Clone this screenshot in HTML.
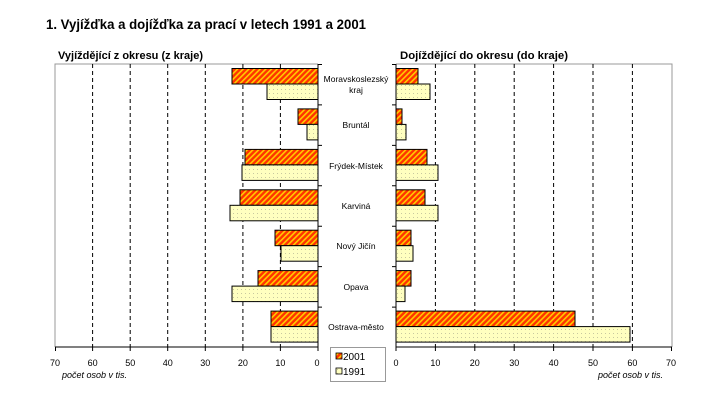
<!DOCTYPE html>
<html><head><meta charset="utf-8"><style>
html,body{margin:0;padding:0;background:#fff;}
svg{display:block;font-family:"Liberation Sans",sans-serif;}
</style></head><body>
<svg width="726" height="405" viewBox="0 0 726 405" xmlns="http://www.w3.org/2000/svg">
<defs>
<pattern id="h" width="4" height="4" patternUnits="userSpaceOnUse" patternTransform="rotate(45)">
<rect width="4" height="4" fill="#ff3300"/><rect width="1.6" height="4" fill="#ffcc00"/>
</pattern>
<pattern id="d" width="4" height="4" patternUnits="userSpaceOnUse">
<rect width="4" height="4" fill="#ffffc0"/><rect x="1" y="1" width="1" height="1" fill="#c8c8a0"/>
</pattern>
</defs>
<text x="46" y="29" font-size="14" font-weight="bold" textLength="320" lengthAdjust="spacingAndGlyphs">1. Vyjížďka a dojížďka za prací v letech 1991  a 2001</text>
<text x="58" y="59" font-size="11" font-weight="bold" textLength="145" lengthAdjust="spacingAndGlyphs">Vyjíždějící z okresu (z kraje)</text>
<text x="400" y="59" font-size="11" font-weight="bold" textLength="168" lengthAdjust="spacingAndGlyphs">Dojíždějící do okresu (do kraje)</text>
<path d="M55 347 V64 H318" fill="none" stroke="#999" stroke-width="1"/>
<path d="M396 64 H672 V347" fill="none" stroke="#999" stroke-width="1"/>
<g stroke="#000" stroke-dasharray="4,3" stroke-width="1">
<line x1="92.6" y1="64" x2="92.6" y2="347"/><line x1="130.2" y1="64" x2="130.2" y2="347"/>
<line x1="167.7" y1="64" x2="167.7" y2="347"/><line x1="205.3" y1="64" x2="205.3" y2="347"/>
<line x1="242.9" y1="64" x2="242.9" y2="347"/><line x1="280.4" y1="64" x2="280.4" y2="347"/>
<line x1="435.4" y1="64" x2="435.4" y2="347"/><line x1="474.8" y1="64" x2="474.8" y2="347"/>
<line x1="514.2" y1="64" x2="514.2" y2="347"/><line x1="553.6" y1="64" x2="553.6" y2="347"/>
<line x1="593" y1="64" x2="593" y2="347"/><line x1="632.4" y1="64" x2="632.4" y2="347"/>
</g>
<g stroke="#000" stroke-width="1">
<rect x="232" y="68.5" width="86" height="15.5" fill="url(#h)"/><rect x="267" y="84" width="51" height="15.5" fill="url(#d)"/>
<rect x="298" y="108.9" width="20" height="15.5" fill="url(#h)"/><rect x="307" y="124.4" width="11" height="15.5" fill="url(#d)"/>
<rect x="245" y="149.4" width="73" height="15.5" fill="url(#h)"/><rect x="242" y="164.9" width="76" height="15.5" fill="url(#d)"/>
<rect x="240" y="189.8" width="78" height="15.5" fill="url(#h)"/><rect x="230" y="205.3" width="88" height="15.5" fill="url(#d)"/>
<rect x="275" y="230.2" width="43" height="15.5" fill="url(#h)"/><rect x="281" y="245.7" width="37" height="15.5" fill="url(#d)"/>
<rect x="258" y="270.6" width="60" height="15.5" fill="url(#h)"/><rect x="232" y="286.1" width="86" height="15.5" fill="url(#d)"/>
<rect x="271" y="311.1" width="47" height="15.5" fill="url(#h)"/><rect x="271" y="326.6" width="47" height="15.5" fill="url(#d)"/>
<rect x="396" y="68.5" width="22" height="15.5" fill="url(#h)"/><rect x="396" y="84" width="34" height="15.5" fill="url(#d)"/>
<rect x="396" y="108.9" width="6" height="15.5" fill="url(#h)"/><rect x="396" y="124.4" width="10" height="15.5" fill="url(#d)"/>
<rect x="396" y="149.4" width="31" height="15.5" fill="url(#h)"/><rect x="396" y="164.9" width="42" height="15.5" fill="url(#d)"/>
<rect x="396" y="189.8" width="29" height="15.5" fill="url(#h)"/><rect x="396" y="205.3" width="42" height="15.5" fill="url(#d)"/>
<rect x="396" y="230.2" width="15" height="15.5" fill="url(#h)"/><rect x="396" y="245.7" width="17" height="15.5" fill="url(#d)"/>
<rect x="396" y="270.6" width="15" height="15.5" fill="url(#h)"/><rect x="396" y="286.1" width="9" height="15.5" fill="url(#d)"/>
<rect x="396" y="311.1" width="179" height="15.5" fill="url(#h)"/><rect x="396" y="326.6" width="234" height="15.5" fill="url(#d)"/>
</g>
<g stroke="#000" stroke-width="1" fill="none">
<path d="M318 64 V347 H55"/>
<path d="M396 64 V347 H672"/>
<path d="M318 64.5h4M318 104.9h4M318 145.4h4M318 185.8h4M318 226.2h4M318 266.6h4M318 307.1h4"/>
<path d="M396 64.5h-4M396 104.9h-4M396 145.4h-4M396 185.8h-4M396 226.2h-4M396 266.6h-4M396 307.1h-4"/>
<path d="M55.5 347v4M92.6 347v4M130.2 347v4M167.7 347v4M205.3 347v4M242.9 347v4M280.4 347v4M318 347v4"/>
<path d="M396 347v4M435.4 347v4M474.8 347v4M514.2 347v4M553.6 347v4M593 347v4M632.4 347v4M671.5 347v4"/>
</g>
<g font-size="9" text-anchor="middle">
<text x="55" y="366">70</text><text x="92.6" y="366">60</text><text x="130.2" y="366">50</text><text x="167.7" y="366">40</text>
<text x="205.3" y="366">30</text><text x="242.9" y="366">20</text><text x="280.4" y="366">10</text><text x="317" y="366">0</text>
<text x="396" y="366">0</text><text x="435.4" y="366">10</text><text x="474.8" y="366">20</text><text x="514.2" y="366">30</text>
<text x="553.6" y="366">40</text><text x="593" y="366">50</text><text x="632.4" y="366">60</text><text x="671" y="366">70</text>
</g>
<g font-size="9" font-style="italic">
<text x="62" y="378">počet osob v tis.</text>
<text x="598" y="378">počet osob v tis.</text>
</g>
<g font-size="8.5" text-anchor="middle">
<text x="356" y="82">Moravskoslezský</text><text x="356" y="93">kraj</text>
<text x="356" y="128">Bruntál</text>
<text x="356" y="169">Frýdek-Místek</text>
<text x="356" y="209">Karviná</text>
<text x="356" y="249">Nový Jičín</text>
<text x="356" y="290">Opava</text>
<text x="356" y="330">Ostrava-město</text>
</g>
<rect x="330.5" y="347.5" width="55" height="34" fill="#fff" stroke="#999"/>
<rect x="336" y="353" width="6" height="6" fill="url(#h)" stroke="#000" stroke-width="0.8"/>
<rect x="336" y="368" width="6" height="6" fill="url(#d)" stroke="#000" stroke-width="0.8"/>
<text x="343" y="360" font-size="10">2001</text>
<text x="343" y="375" font-size="10">1991</text>
</svg>
</body></html>
